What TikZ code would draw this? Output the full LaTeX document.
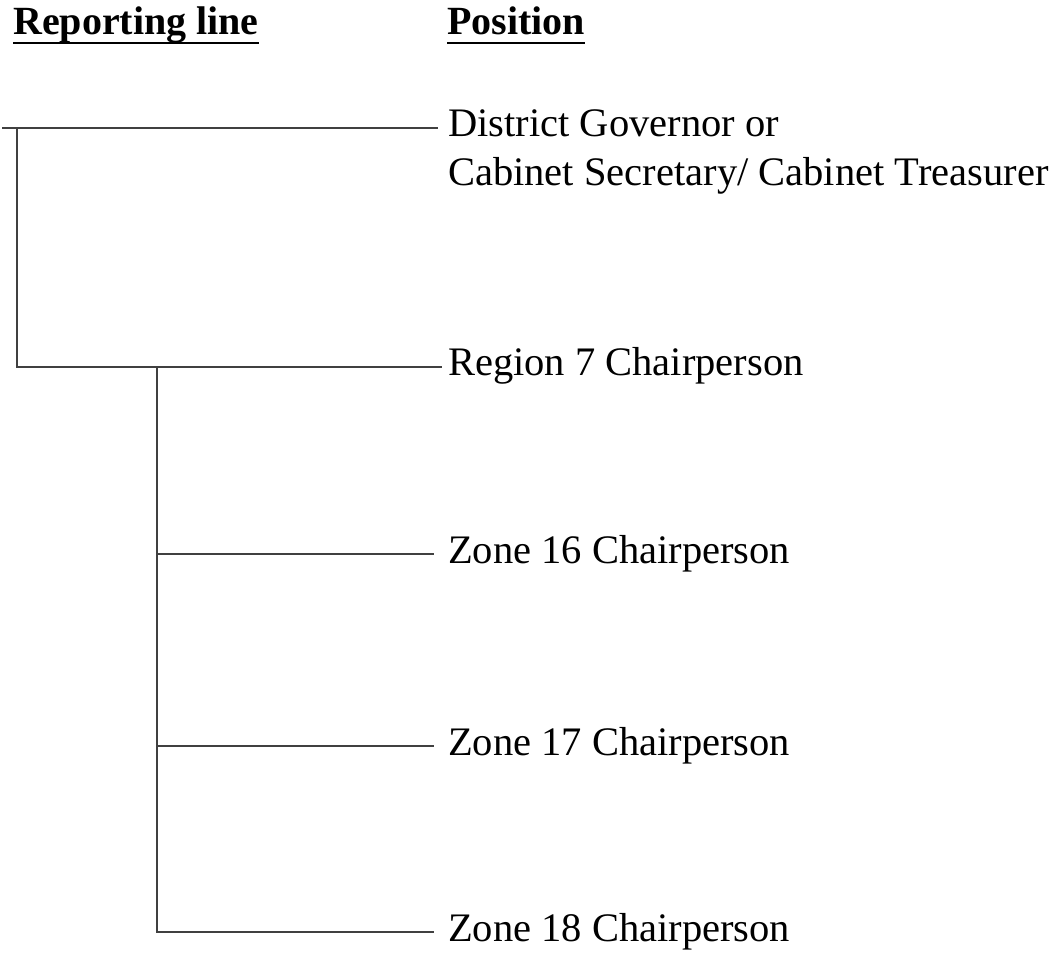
\documentclass[tikz,border=0pt]{standalone}
\usepackage{fontspec}
\setmainfont{Liberation Serif}
\usetikzlibrary{calc}
\begin{document}
\begin{tikzpicture}[x=1pt,y=-1pt,
  posn/.style={anchor=base west,inner sep=0pt,font=\fontsize{40.5}{48}\selectfont},
  head/.style={anchor=base west,inner sep=0pt,font=\fontsize{40}{48}\selectfont\bfseries},
  link/.style={draw=black!75,line width=1.4pt}]
\useasboundingbox (0,0) rectangle (1058,958);
\node[head] (h1) at (13,35) {Reporting line};
\node[head] (h2) at (447,35) {Position};
\draw[line width=2.4pt] (h1.base west)++(0,8) -- ($(h1.base east)+(0,8)$);
\draw[line width=2.4pt] (h2.base west)++(0,8) -- ($(h2.base east)+(0,8)$);
\node[posn] (dg1) at (448,136) {District Governor or};
\node[posn] (dg2) at (448,185) {Cabinet Secretary/ Cabinet Treasurer};
\node[posn] (r7) at (448,375) {Region 7 Chairperson};
\node[posn] (z16) at (448,563) {Zone 16 Chairperson};
\node[posn] (z17) at (448,755) {Zone 17 Chairperson};
\node[posn] (z18) at (448,941) {Zone 18 Chairperson};
\coordinate (a0) at (2,128);
\coordinate (a1) at (17,128);
\coordinate (b1) at (17,367);
\coordinate (b2) at (157,367);
\draw[link] (a0) -- ($(dg1.base west)+(-10,-8)$);
\draw[link] (a1) -- (b1) -- ($(r7.base west)+(-6,-8)$);
\draw[link] (b2) |- ($(z18.base west)+(-14,-9)$);
\draw[link] (b2 |- z16.base) ++(0,-9) -- ($(z16.base west)+(-14,-9)$);
\draw[link] (b2 |- z17.base) ++(0,-9) -- ($(z17.base west)+(-14,-9)$);
\end{tikzpicture}
\end{document}
